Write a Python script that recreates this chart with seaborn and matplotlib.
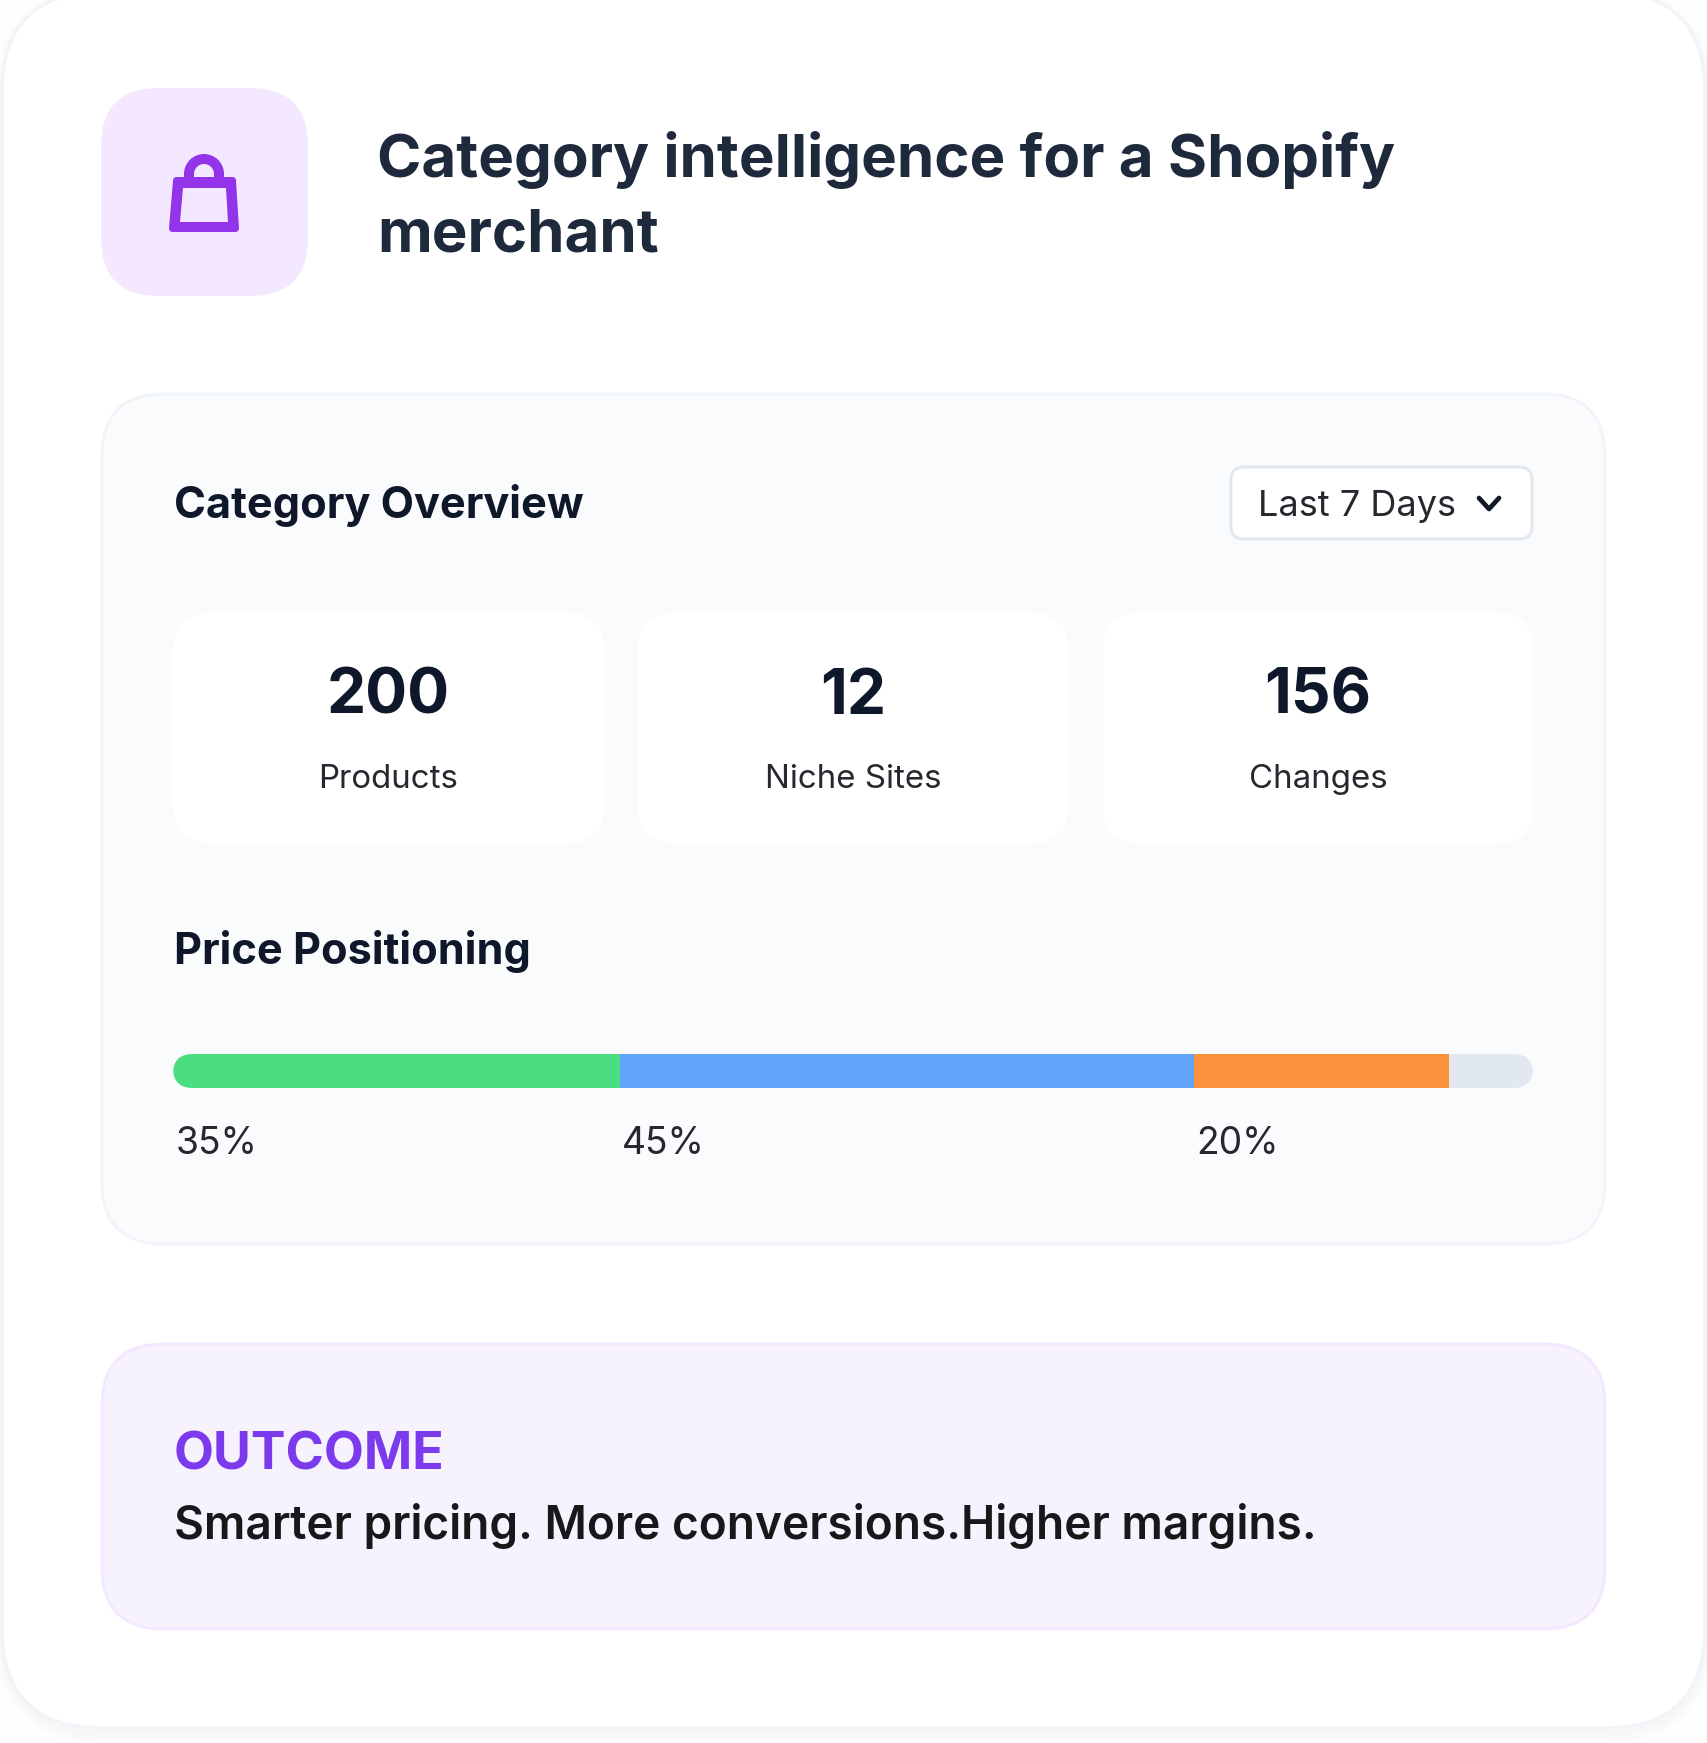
import matplotlib
matplotlib.use("Agg")
import matplotlib.pyplot as plt
from matplotlib.patches import FancyBboxPatch, Wedge, Rectangle
from matplotlib.path import Path
from matplotlib.patches import PathPatch
import seaborn as sns
import pandas as pd

TITLE = "Category intelligence for a Shopify\nmerchant"
OVERVIEW = "Category Overview"
DROPDOWN = "Last 7 Days"
STAT_VALUES = ["200", "12", "156"]
STAT_LABELS = ["Products", "Niche Sites", "Changes"]
PRICE_HEADING = "Price Positioning"
BANDS = ["Low", "Mid", "High"]
SHARES = [35, 45, 20]
SHARE_LABELS = ["35%", "45%", "20%"]
BAND_COLORS = ["#4ADE80", "#60A5FA", "#FB923C"]
OUTCOME_HEAD = "OUTCOME"
OUTCOME_TEXT = "Smarter pricing. More conversions.Higher margins."

W, H = 1707, 1743
sns.set_theme(style="white")
plt.rcParams["font.family"] = ["Inter", "DejaVu Sans"]

fig = plt.figure(figsize=(W / 100, H / 100), dpi=100, facecolor="#FEFEFE")
bg = fig.add_axes([0, 0, 1, 1])
bg.set_xlim(0, W)
bg.set_ylim(H, 0)
bg.axis("off")


def box(x0, y0, x1, y1, r, fc, ec="none", lw=0, z=1, alpha=None):
    p = FancyBboxPatch((x0 + r, y0 + r), x1 - x0 - 2 * r, y1 - y0 - 2 * r,
                       boxstyle=f"round,pad={r},rounding_size={r}",
                       fc=fc, ec=ec, lw=lw * 0.72, zorder=z, alpha=alpha)
    bg.add_patch(p)
    return p


def label(x, y, s, width=None, size=20, weight="normal", color="#1E293B", ha="left", z=5, **kw):
    t = bg.text(x, y, s, fontsize=size, fontweight=weight, color=color, ha=ha, va="baseline", zorder=z, **kw)
    if width is not None:
        r = fig.canvas.get_renderer()
        t.set_fontsize(size * width / t.get_window_extent(r).width)
    return t


# outer card with a faint shadow
for grow, a in [(10, 0.006), (7, 0.008), (4, 0.010)]:
    box(4 - grow, -8 - grow + 6, 1704 + grow, 1727 + grow + 6, 100 + grow, "#334155", alpha=a, z=0)
box(2, -8, 1705, 1728, 100, "#FFFFFF", ec="#F1F5F9", lw=3.5, z=1)

# icon tile and bag
box(101, 88, 308, 296, 58, "#F3E8FF", z=2)
PURPLE = "#9333EA"
bg.add_patch(Wedge((204, 174), 20, 180, 360, width=10, fc=PURPLE, ec="none", zorder=3))
bg.add_patch(Rectangle((184, 172), 10, 8, fc=PURPLE, ec="none", zorder=3))
bg.add_patch(Rectangle((214, 172), 10, 8, fc=PURPLE, ec="none", zorder=3))
bag = Path(
    [(173, 181), (173, 177), (177, 177), (232, 177), (236, 177), (236, 181), (239, 228), (239, 232), (235, 232),
     (173, 232), (169, 232), (169, 228), (173, 181),
     (183, 188), (180, 222), (228, 222), (226, 188), (183, 188)],
    [Path.MOVETO, Path.CURVE3, Path.CURVE3, Path.LINETO, Path.CURVE3, Path.CURVE3, Path.LINETO, Path.CURVE3, Path.CURVE3,
     Path.LINETO, Path.CURVE3, Path.CURVE3, Path.CLOSEPOLY,
     Path.MOVETO, Path.LINETO, Path.LINETO, Path.LINETO, Path.CLOSEPOLY])
bg.add_patch(PathPatch(bag, fc=PURPLE, ec="none", zorder=3))

title_lines = TITLE.split("\n")
first = label(377, 177, title_lines[0], width=1018, size=44, weight="bold", color="#1E293B")
label(377, 251, title_lines[1], size=first.get_fontsize(), weight="bold", color="#1E293B")

# overview panel
box(102, 394, 1605, 1244, 62, "#F9FBFD", ec="#F1F5F9", lw=3, z=2)
label(174, 518, OVERVIEW, width=409, size=32, weight="bold", color="#0F172A")

# dropdown
box(1231, 467, 1532, 539, 13, "#FFFFFF", ec="#E2E8F0", lw=3, z=3)
label(1258, 516, DROPDOWN, width=198, size=26, color="#27272F")
bg.plot([1479, 1489, 1499], [498, 509, 498], color="#111827", lw=3.4, solid_capstyle="round",
        solid_joinstyle="round", zorder=5)

# stat cards
card_edges = [(173, 604), (638, 1068), (1103, 1533)]
for (x0, x1), v, lab in zip(card_edges, STAT_VALUES, STAT_LABELS):
    box(x0, 613, x1, 843, 36, "#FFFFFF", z=3)
    cx = (x0 + x1) / 2
    label(cx, 714, v, size=44.8, weight="bold", color="#0F172A", ha="center")
    label(cx, 788, lab, size=23.8, color="#27272F", ha="center")

label(174, 964, PRICE_HEADING, width=356, size=32, weight="bold", color="#0F172A")

# price positioning bar
track = box(173, 1054, 1533, 1088, 20, "#E2E8F0", z=3)
ax = fig.add_axes([173 / W, 1 - 1088 / H, 1360 / W, 34 / H], zorder=5)
ax.patch.set_alpha(0)
frame = pd.DataFrame({"band": BANDS, "share": SHARES, "row": "price"})
frame["start"] = frame["share"].cumsum() - frame["share"]
for band, color, start in zip(BANDS, BAND_COLORS, frame["start"]):
    sns.barplot(data=frame[frame["band"] == band], x="share", y="row", orient="y", color=color,
                saturation=1, width=1.0, left=start, ax=ax, linewidth=0)
ax.set_xlim(0, sum(SHARES) * 1.066)
ax.set_ylim(0.5, -0.5)
ax.axis("off")
for bar in ax.patches:
    bar.set_clip_path(track)
for start, txt in zip(frame["start"], SHARE_LABELS):
    ax.annotate(txt, xy=(start, 0), xycoords=("data", "axes fraction"), xytext=(1.6, -66 * 0.72), textcoords="offset points",
                fontsize=26.8, color="#27272F", ha="left", va="baseline", annotation_clip=False)

# outcome panel
box(102, 1344, 1605, 1629, 62, "#F6F3FE", ec="#F3E8FF", lw=3, z=2)
label(174, 1470, OUTCOME_HEAD, width=271, size=36, weight="bold", color="#7C3AED")
label(174, 1539, OUTCOME_TEXT, width=1139, size=34, weight="semibold", color="#18181B")

fig.savefig("out.png", dpi=100, facecolor=fig.get_facecolor())
